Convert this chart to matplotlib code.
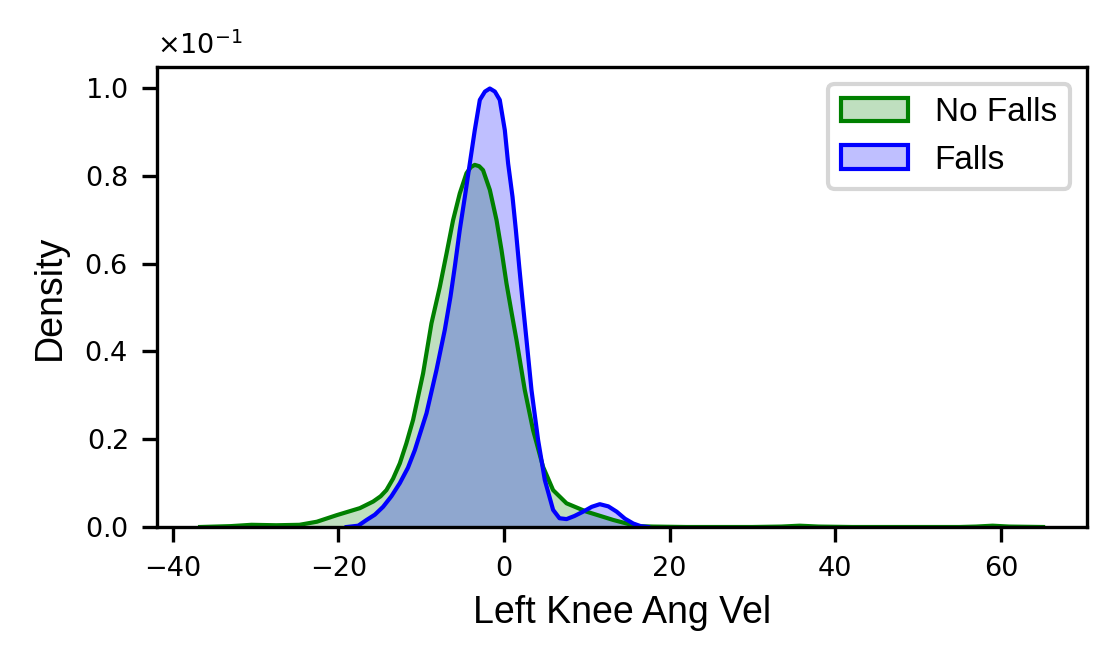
import matplotlib
matplotlib.use("Agg")
import matplotlib.pyplot as plt
from matplotlib.patches import Patch

# density curves (value, density)
no_falls_x = [-36.7, -33.0, -30.5, -27.5, -24.7, -22.6, -20.2, -17.4, -15.8, -14.9,
              -14.2, -13.4, -12.58, -11.8, -10.98, -9.77, -8.76, -7.75, -6.94, -6.15,
              -5.34, -4.53, -4.0, -3.53, -3.0, -2.53, -1.71, -0.9, -0.30, 0.30,
              0.9, 1.51, 2.51, 3.51, 4.72, 5.93, 7.55, 9.96, 13.2, 16.0,
              18.0, 22.0, 30.0, 33.5, 35.7, 38.0, 42.0, 55.0, 57.0, 59.0,
              61.0, 65.1]
no_falls_y = [0.0, 0.0002, 0.0005, 0.0004, 0.0005, 0.0012, 0.0027, 0.0043, 0.0058, 0.0070,
              0.0084, 0.0110, 0.0145, 0.0190, 0.0244, 0.0350, 0.0464, 0.0547, 0.0623, 0.0699,
              0.0760, 0.0806, 0.0820, 0.0825, 0.0822, 0.0813, 0.0768, 0.0699, 0.0631, 0.0555,
              0.0490, 0.0426, 0.0312, 0.0221, 0.0137, 0.0084, 0.0054, 0.0035, 0.0016, 0.0002,
              0.0001, 0.0, 0.0, 0.0001, 0.0003, 0.0001, 0.0, 0.0, 0.0001, 0.0003,
              0.0001, 0.0]

falls_x = [-19.0, -17.6, -16.6, -15.6, -14.6, -13.6, -12.58, -11.6, -10.77, -9.36,
           -8.15, -7.15, -6.46, -5.94, -5.34, -4.73, -4.13, -3.53, -2.92, -2.3,
           -1.71, -1.1, -0.51, 0.10, 0.50, 1.03, 1.43, 1.84, 2.19, 2.72,
           3.32, 4.12, 4.93, 5.93, 6.7, 7.55, 8.5, 9.56, 10.6, 11.57,
           12.6, 13.6, 14.6, 15.6, 16.5, 17.4]
falls_y = [0.0, 0.0003, 0.0016, 0.0028, 0.0046, 0.0070, 0.0100, 0.0135, 0.0175, 0.0259,
           0.0358, 0.0449, 0.0525, 0.0593, 0.0677, 0.0752, 0.0828, 0.0904, 0.0973, 0.0992,
           0.0999, 0.0992, 0.0973, 0.0904, 0.0828, 0.0752, 0.0677, 0.0593, 0.0525, 0.0426,
           0.0312, 0.0198, 0.0107, 0.0039, 0.0020, 0.0018, 0.0025, 0.0035, 0.0046, 0.0052,
           0.0047, 0.0035, 0.0019, 0.0008, 0.0002, 0.0]

label_font = "Liberation Sans"

fig = plt.figure(figsize=(3.72, 2.22), dpi=300)
ax = fig.add_axes([0.1407, 0.2087, 0.8333, 0.6907])

for xs, ys, col in [(no_falls_x, no_falls_y, "green"), (falls_x, falls_y, "blue")]:
    ax.fill_between(xs, ys, 0, color=col, alpha=0.25, linewidth=0)
    ax.plot(xs, ys, color=col, linewidth=1.0, solid_joinstyle="round")

ax.set_xlim(-41.9, 70.4)
ax.set_ylim(0, 0.1048)
ax.set_xticks([-40, -20, 0, 20, 40, 60])
ax.set_yticks([0, 0.02, 0.04, 0.06, 0.08, 0.10])
ax.ticklabel_format(axis="y", style="sci", scilimits=(0, 0), useMathText=True)
ax.tick_params(labelsize=6.5, width=0.8, length=3.5)
ax.yaxis.get_offset_text().set_fontsize(6.5)
for s in ax.spines.values():
    s.set_linewidth(0.8)

ax.set_xlabel("Left Knee Ang Vel", family=label_font, fontsize=9, labelpad=3)
ax.set_ylabel("Density", family=label_font, fontsize=9, labelpad=4)

handles = [Patch(facecolor=(0, 0.5, 0, 0.25), edgecolor="green", linewidth=1.0, label="No Falls"),
           Patch(facecolor=(0, 0, 1, 0.25), edgecolor="blue", linewidth=1.0, label="Falls")]
ax.legend(handles=handles, loc="upper right", prop={"family": label_font, "size": 8})

fig.savefig("out.png", dpi=300)
